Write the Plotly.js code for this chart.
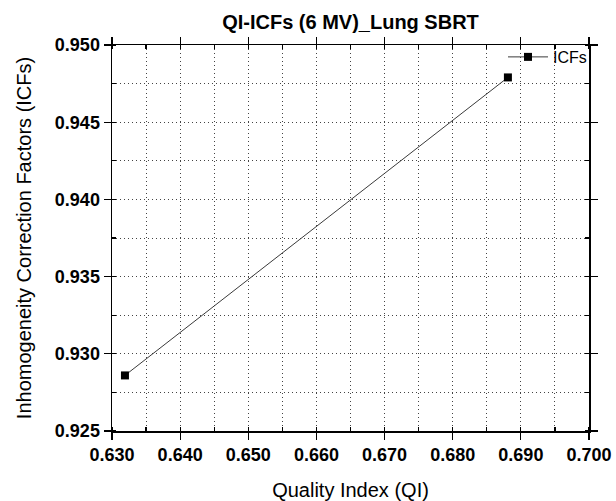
<!DOCTYPE html>
<html>
<head>
<meta charset="utf-8">
<script src="https://cdn.plot.ly/plotly-3.0.1.min.js"></script>
<style>html,body{margin:0;padding:0;background:#fff;}#chart{width:616px;height:501px;}</style>
</head>
<body>
<div id="chart"></div>
<script>
const qi = [0.6319, 0.6881];
const icf = [0.9286, 0.9479];
const seriesName = 'ICFs';
const xTickVals = [0.63, 0.64, 0.65, 0.66, 0.67, 0.68, 0.69, 0.70];
const xTickText = ['0.630','0.640','0.650','0.660','0.670','0.680','0.690','0.700'];
const yTickVals = [0.925, 0.930, 0.935, 0.940, 0.945, 0.950];
const yTickText = ['0.925','0.930','0.935','0.940','0.945','0.950'];

const FONT = 'Arial, "Liberation Sans", sans-serif';

const trace = {
  x: qi, y: icf, name: seriesName, type: 'scatter', mode: 'lines+markers',
  line: {color: '#3a3a3a', width: 1},
  marker: {symbol: 'square', size: 8, color: '#000'}
};

const GRID = {gridcolor: '#444', griddash: '1px,3px', gridwidth: 1};

const axisCommon = Object.assign({
  showline: true, linecolor: '#000', linewidth: 1.5, mirror: 'ticks',
  ticks: 'outside', ticklen: 7, tickwidth: 1.2, tickcolor: '#000',
  showgrid: true, zeroline: false,
  tickfont: {family: FONT, size: 18, color: '#000', weight: 'bold'}
}, GRID);

const layout = {
  width: 616, height: 501,
  margin: {l: 112, r: 27, t: 45, b: 70},
  paper_bgcolor: '#fff', plot_bgcolor: '#fff',
  font: {family: FONT, color: '#000'},
  title: {text: 'QI-ICFs (6 MV)_Lung SBRT', font: {family: FONT, size: 20, weight: 'bold', color: '#000'},
          x: 0.5, xref: 'paper', xanchor: 'center', y: 1 - 22/501, yref: 'container', yanchor: 'middle'},
  xaxis: Object.assign({}, axisCommon, {
    range: [0.63, 0.70], tickmode: 'array', tickvals: xTickVals, ticktext: xTickText,
    minor: Object.assign({dtick: 0.005, tick0: 0.63, ticks: 'inside', ticklen: 4, tickcolor: '#000', showgrid: true}, GRID),
    title: {text: 'Quality Index (QI)', font: {family: FONT, size: 20, color: '#000'}, standoff: 20}
  }),
  yaxis: Object.assign({}, axisCommon, {
    range: [0.925, 0.950], tickmode: 'array', tickvals: yTickVals, ticktext: yTickText,
    minor: Object.assign({dtick: 0.0025, tick0: 0.925, ticks: 'inside', ticklen: 4, tickcolor: '#000', showgrid: true}, GRID),
    title: {text: 'Inhomogeneity Correction Factors (ICFs)', font: {family: FONT, size: 20, color: '#000'}, standoff: 18}
  }),
  showlegend: true,
  legend: {x: 1 + 3/477, xanchor: 'right', y: 1.013, yanchor: 'top', bgcolor: 'rgba(0,0,0,0)',
           font: {family: FONT, size: 16, color: '#000'}, itemwidth: 40}
};

Plotly.newPlot('chart', [trace], layout, {displayModeBar: false, staticPlot: true});
</script>
</body>
</html>
